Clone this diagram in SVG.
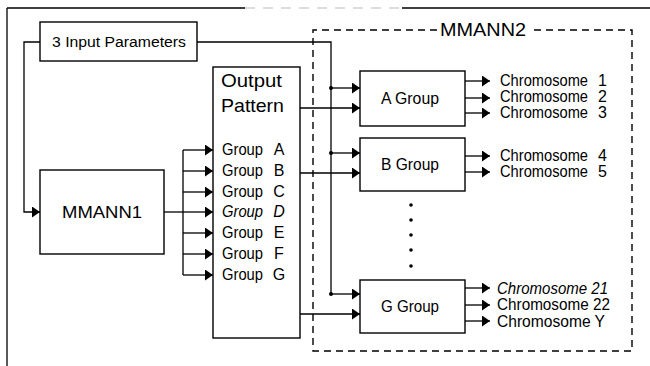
<svg xmlns="http://www.w3.org/2000/svg" width="650" height="366" viewBox="0 0 650 366">
<style>
  .box{fill:#fff;stroke:#000;stroke-width:1.4}
  .ln{fill:none;stroke:#000;stroke-width:1.3}
  .arr{fill:none;stroke:#000;stroke-width:1.3;marker-end:url(#ah)}
  .dash{fill:none;stroke:#000;stroke-width:1.4;stroke-dasharray:7 5}
  text{font-family:"Liberation Sans",Arial,sans-serif;fill:#000}
  .grp{font-size:16px}
  .chr{font-size:16px}
  .chg{font-size:16px}
</style>
<defs>
  <marker id="ah" markerUnits="userSpaceOnUse" markerWidth="9" markerHeight="11" refX="8" refY="5.5" orient="auto">
    <path d="M0,0 L8,5.5 L0,11 z" fill="#000"/>
  </marker>
</defs>
<rect width="650" height="366" fill="#fff"/>
<g id="frame">
  <line class="ln" x1="7" y1="8" x2="7" y2="366"/>
  <line class="ln" x1="7" y1="8" x2="245" y2="8"/>
  <line x1="245" y1="8" x2="402" y2="8" stroke="#bbb" stroke-width="1" stroke-dasharray="10 8"/>
  <line class="ln" x1="402" y1="8" x2="650" y2="8"/>
</g>
<g id="mmann2">
  <path class="dash" d="M437,30 H313 V351 H632 V30 H530"/>
  <text x="483" y="36" font-size="17.5" text-anchor="middle" textLength="86" lengthAdjust="spacingAndGlyphs">MMANN2</text>
</g>
<g id="connectors">
  <polyline class="arr" points="40,42 24,42 24,212 40,212"/>
  <polyline class="ln" points="197,42 331,42 331,294"/>
  <line class="arr" x1="331" y1="88" x2="360" y2="88"/>
  <line class="arr" x1="331" y1="153" x2="360" y2="153"/>
  <line class="arr" x1="331" y1="294" x2="360" y2="294"/>
  <circle cx="331" cy="88" r="2"/>
  <circle cx="331" cy="153" r="2"/>
  <circle cx="331" cy="294" r="2"/>
  <line class="arr" x1="300" y1="108" x2="360" y2="108"/>
  <line class="arr" x1="300" y1="173" x2="360" y2="173"/>
  <line class="arr" x1="300" y1="314" x2="360" y2="314"/>
  <line class="ln" x1="164" y1="212" x2="183" y2="212"/>
  <line class="ln" x1="183" y1="150" x2="183" y2="275"/>
  <line class="arr" x1="183" y1="150" x2="213" y2="150"/>
  <line class="arr" x1="183" y1="171" x2="213" y2="171"/>
  <line class="arr" x1="183" y1="192" x2="213" y2="192"/>
  <line class="arr" x1="183" y1="212" x2="213" y2="212"/>
  <line class="arr" x1="183" y1="233" x2="213" y2="233"/>
  <line class="arr" x1="183" y1="254" x2="213" y2="254"/>
  <line class="arr" x1="183" y1="275" x2="213" y2="275"/>
  <line class="arr" x1="465" y1="81" x2="490" y2="81"/>
  <line class="arr" x1="465" y1="98" x2="490" y2="98"/>
  <line class="arr" x1="465" y1="113" x2="490" y2="113"/>
  <line class="arr" x1="465" y1="156" x2="490" y2="156"/>
  <line class="arr" x1="465" y1="172" x2="490" y2="172"/>
  <line class="arr" x1="465" y1="288" x2="490" y2="288"/>
  <line class="arr" x1="465" y1="305" x2="490" y2="305"/>
  <line class="arr" x1="465" y1="321" x2="490" y2="321"/>
</g>
<g id="input-params">
  <rect class="box" x="40" y="22" width="157" height="39"/>
  <text x="52" y="47" font-size="15.5" textLength="134" lengthAdjust="spacingAndGlyphs">3 Input Parameters</text>
</g>
<g id="mmann1">
  <rect class="box" x="40" y="170" width="124" height="84"/>
  <text x="102" y="218" font-size="17" text-anchor="middle" textLength="80" lengthAdjust="spacingAndGlyphs">MMANN1</text>
</g>
<g id="output-pattern">
  <rect class="box" x="213" y="67" width="87" height="271"/>
  <text x="221" y="87" font-size="18.5" textLength="61" lengthAdjust="spacingAndGlyphs">Output</text>
  <text x="221" y="112" font-size="18.5" textLength="63" lengthAdjust="spacingAndGlyphs">Pattern</text>
  <g class="grp">
    <text x="222" y="155"><tspan textLength="41" lengthAdjust="spacingAndGlyphs">Group</tspan><tspan x="279" text-anchor="middle">A</tspan></text>
    <text x="222" y="176"><tspan textLength="41" lengthAdjust="spacingAndGlyphs">Group</tspan><tspan x="279" text-anchor="middle">B</tspan></text>
    <text x="222" y="197"><tspan textLength="41" lengthAdjust="spacingAndGlyphs">Group</tspan><tspan x="279" text-anchor="middle">C</tspan></text>
    <text x="222" y="217" font-style="italic"><tspan textLength="41" lengthAdjust="spacingAndGlyphs">Group</tspan><tspan x="279" text-anchor="middle">D</tspan></text>
    <text x="222" y="238"><tspan textLength="41" lengthAdjust="spacingAndGlyphs">Group</tspan><tspan x="279" text-anchor="middle">E</tspan></text>
    <text x="222" y="259"><tspan textLength="41" lengthAdjust="spacingAndGlyphs">Group</tspan><tspan x="279" text-anchor="middle">F</tspan></text>
    <text x="222" y="280"><tspan textLength="41" lengthAdjust="spacingAndGlyphs">Group</tspan><tspan x="279" text-anchor="middle">G</tspan></text>
  </g>
</g>
<g id="a-group">
  <rect class="box" x="360" y="71" width="105" height="55"/>
  <text x="410" y="104" font-size="16" text-anchor="middle" textLength="58" lengthAdjust="spacingAndGlyphs">A Group</text>
  <g class="chr">
    <text x="500" y="86" textLength="88" lengthAdjust="spacingAndGlyphs">Chromosome</text><text x="598" y="86">1</text>
    <text x="500" y="102" textLength="88" lengthAdjust="spacingAndGlyphs">Chromosome</text><text x="598" y="102">2</text>
    <text x="500" y="118" textLength="88" lengthAdjust="spacingAndGlyphs">Chromosome</text><text x="598" y="118">3</text>
  </g>
</g>
<g id="b-group">
  <rect class="box" x="360" y="138" width="105" height="53"/>
  <text x="410" y="170" font-size="16" text-anchor="middle" textLength="58" lengthAdjust="spacingAndGlyphs">B Group</text>
  <g class="chr">
    <text x="500" y="161" textLength="88" lengthAdjust="spacingAndGlyphs">Chromosome</text><text x="598" y="161">4</text>
    <text x="500" y="177" textLength="88" lengthAdjust="spacingAndGlyphs">Chromosome</text><text x="598" y="177">5</text>
  </g>
</g>
<g id="ellipsis">
  <circle cx="411" cy="205" r="1.8"/>
  <circle cx="411" cy="220" r="1.8"/>
  <circle cx="411" cy="235" r="1.8"/>
  <circle cx="411" cy="250" r="1.8"/>
  <circle cx="411" cy="266" r="1.8"/>
</g>
<g id="g-group">
  <rect class="box" x="360" y="280" width="105" height="53"/>
  <text x="410" y="312" font-size="16" text-anchor="middle" textLength="58" lengthAdjust="spacingAndGlyphs">G Group</text>
  <g class="chg">
    <text x="497" y="294" font-style="italic" textLength="111" lengthAdjust="spacingAndGlyphs">Chromosome 21</text>
    <text x="497" y="310" textLength="113" lengthAdjust="spacingAndGlyphs">Chromosome 22</text>
    <text x="497" y="327" textLength="108" lengthAdjust="spacingAndGlyphs">Chromosome Y</text>
  </g>
</g>
</svg>
